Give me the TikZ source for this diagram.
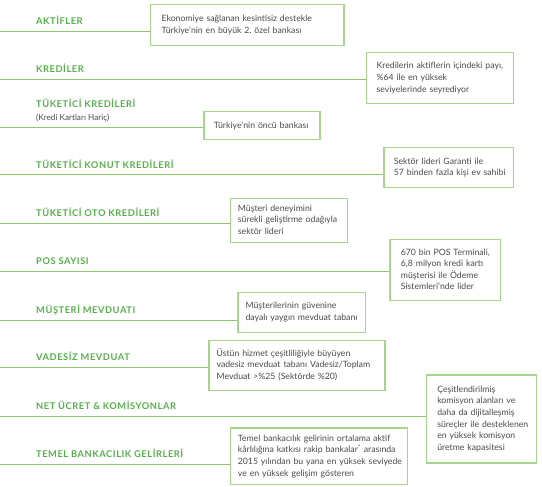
\documentclass[tikz,border=0pt]{standalone}
\usepackage{fontspec}
\setmainfont{Lato}
\newfontfamily\labfont[LetterSpace=6]{Lato}
\definecolor{labgreen}{HTML}{55B04A}
\definecolor{linegreen}{HTML}{8DC86F}
\definecolor{boxgreen}{HTML}{A5D68B}
\definecolor{bodygray}{HTML}{4A4A4A}
\newcommand{\boxlines}[1]{\begin{tabular}{@{}l@{}}#1\end{tabular}}
\begin{document}
\begin{tikzpicture}[x=1pt,y=-1pt,
  lab/.style={anchor=base west,inner sep=0pt,text=labgreen,font=\labfont\bfseries\fontsize{9.3}{11}\selectfont},
  sublab/.style={anchor=base west,inner sep=0pt,text=bodygray,font=\fontsize{8.2}{9}\selectfont},
  infobox/.style={draw=boxgreen,line width=1.2pt,anchor=north west,align=left,inner ysep=0pt,
    text=bodygray,font=\fontsize{8.7}{11.6}\selectfont},
  conn/.style={draw=linegreen,line width=1pt}]
\useasboundingbox (0,0) rectangle (542,487);
% labels
\node[lab] (l1) at (36,25) {AKTİFLER};
\node[lab] (l2) at (36,73) {KREDİLER};
\node[lab] (l3) at (36,107.6) {TÜKETİCİ KREDİLERİ};
\node[sublab] (l3s) at (36,120.8) {(Kredi Kartları Hariç)};
\node[lab] (l4) at (36,168) {TÜKETİCİ KONUT KREDİLERİ};
\node[lab] (l5) at (36,216.3) {TÜKETİCİ OTO KREDİLERİ};
\node[lab] (l6) at (36,264.7) {POS SAYISI};
\node[lab] (l7) at (36,313) {MÜŞTERİ MEVDUATI};
\node[lab] (l8) at (36,360.7) {VADESİZ MEVDUAT};
\node[lab] (l9) at (36,409) {NET ÜCRET \& KOMİSYONLAR};
\node[lab] (l10) at (36,457.3) {TEMEL BANKACILIK GELİRLERİ};
% boxes
\node[infobox,inner xsep=11pt,text width=171.3pt,minimum height=40.4pt] (b1) at (150,4.3)
  {\boxlines{Ekonomiye sağlanan kesintisiz destekle\\Türkiye’nin en büyük 2.\ özel bankası}};
\node[infobox,inner xsep=10pt,text width=126.7pt,minimum height=51.6pt] (b2) at (366,51.7)
  {\boxlines{Kredilerin aktiflerin içindeki payı,\\\%64 ile en yüksek\\seviyelerinde seyrediyor}};
\node[infobox,inner xsep=10pt,text width=96pt,minimum height=28.3pt] (b3) at (203.3,111)
  {\boxlines{Türkiye’nin öncü bankası}};
\node[infobox,inner xsep=10pt,text width=109.4pt,minimum height=40.6pt] (b4) at (383.3,146.7)
  {\boxlines{Sektör lideri Garanti ile\\57 binden fazla kişi ev sahibi}};
\node[infobox,inner xsep=7.3pt,text width=102.1pt,minimum height=44.6pt] (b5) at (230,197.7)
  {\boxlines{Müşteri deneyimini\\sürekli geliştirme odağıyla\\sektör lideri}};
\node[infobox,inner xsep=11pt,text width=88.7pt,minimum height=60.7pt] (b6) at (389.3,239.3)
  {\boxlines{670 bin POS Terminali,\\6,8 milyon kredi kartı\\müşterisi ile Ödeme\\Sistemleri’nde lider}};
\node[infobox,inner xsep=7.7pt,text width=112.3pt,minimum height=40pt] (b7) at (237.3,291.7)
  {\boxlines{Müşterilerinin güvenine\\dayalı yaygın mevduat tabanı}};
\node[infobox,inner xsep=7.7pt,text width=160.6pt,minimum height=50pt] (b8) at (208.3,340)
  {\boxlines{Üstün hizmet çeşitliliğiyle büyüyen\\vadesiz mevduat tabanı Vadesiz/Toplam\\Mevduat >\%25 (Sektörde \%20)}};
\node[infobox,inner xsep=11pt,text width=88pt,minimum height=88pt] (b9) at (425.7,374.3)
  {\boxlines{Çeşitlendirilmiş\\komisyon alanları ve\\daha da dijitalleşmiş\\süreçler ile desteklenen\\en yüksek komisyon\\üretme kapasitesi}};
\node[infobox,inner xsep=7.3pt,text width=162.1pt,minimum height=56.7pt] (b10) at (230,427.3)
  {\boxlines{Temel bankacılık gelirinin ortalama aktif\\kârlılığına katkısı rakip bankalar\textsuperscript{*} arasında\\2015 yılından bu yana en yüksek seviyede\\ve en yüksek gelişim gösteren}};
% connector start points
\coordinate (s1) at (0,32);
\coordinate (s2) at (0,80);
\coordinate (s3) at (0,128);
\coordinate (s4) at (0,175);
\coordinate (s5) at (0,223.3);
\coordinate (s6) at (0,271.7);
\coordinate (s7) at (0,320);
\coordinate (s8) at (0,367.7);
\coordinate (s9) at (0,416);
\coordinate (s10) at (0,464.3);
\foreach \i in {1,...,10}{\draw[conn] (s\i) -- (s\i -| b\i.west);}
\end{tikzpicture}
\end{document}
